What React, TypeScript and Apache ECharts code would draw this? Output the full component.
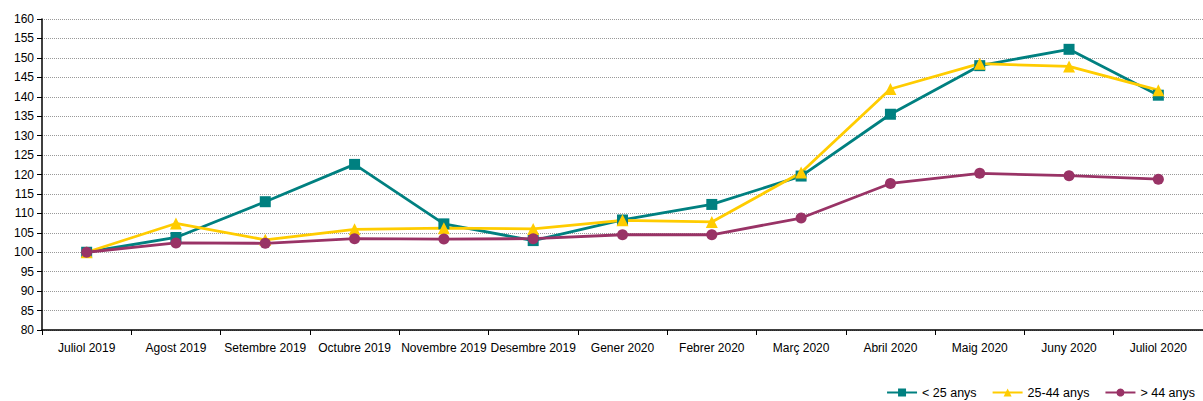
import React, { useEffect, useRef } from "react";
import * as echarts from "echarts";

const categories = [
  "Juliol 2019", "Agost 2019", "Setembre 2019", "Octubre 2019", "Novembre 2019",
  "Desembre 2019", "Gener 2020", "Febrer 2020", "Març 2020", "Abril 2020",
  "Maig 2020", "Juny 2020", "Juliol 2020",
];
const under25 = [100, 103.8, 113, 122.6, 107.3, 103, 108.3, 112.3, 119.6, 135.5, 148, 152.2, 140.4];
const age25to44 = [100, 107.4, 103.2, 105.9, 106.2, 106, 108.2, 107.8, 120.5, 142, 148.5, 147.8, 141.7];
const over44 = [100, 102.4, 102.3, 103.5, 103.4, 103.5, 104.5, 104.5, 108.8, 117.7, 120.3, 119.7, 118.8];
const seriesNames = ["< 25 anys", "25-44 anys", "> 44 anys"];

const FONT = "'Liberation Sans Narrow', 'Liberation Sans', Arial, sans-serif";

export default function App() {
  const ref = useRef<HTMLDivElement>(null);
  useEffect(() => {
    document.body.style.margin = "0";
    const chart = echarts.init(ref.current!, null, { renderer: "svg" });
    const mk = (name: string, data: number[], color: string, symbol: string, size: number) => ({
      name,
      type: "line",
      data,
      symbol,
      symbolSize: size,
      showAllSymbol: true,
      lineStyle: { color, width: 2.8 },
      itemStyle: { color },
    });
    chart.setOption({
      animation: false,
      backgroundColor: "#ffffff",
      textStyle: { fontFamily: FONT },
      grid: { left: 42, top: 19, width: 1166, height: 311 },
      legend: {
        right: 8,
        top: 386,
        padding: 0,
        itemWidth: 30,
        itemHeight: 10,
        itemGap: 15,
        textStyle: { fontFamily: FONT, fontSize: 12.5, color: "#000" },
        data: seriesNames,
      },
      xAxis: {
        type: "category",
        data: categories,
        boundaryGap: true,
        axisLine: { lineStyle: { color: "#000", width: 1.5 } },
        axisTick: { show: true, length: 5, lineStyle: { color: "#000" } },
        axisLabel: { color: "#000", fontSize: 12, fontFamily: FONT, margin: 12, interval: 0 },
      },
      yAxis: {
        type: "value",
        min: 80,
        max: 160,
        interval: 5,
        axisLine: { show: true, lineStyle: { color: "#000", width: 1.5 } },
        axisTick: { show: true, length: 5, lineStyle: { color: "#000" } },
        axisLabel: { color: "#000", fontSize: 12, fontFamily: FONT, margin: 8 },
        splitLine: { show: true, lineStyle: { color: "#999", type: [1, 1], width: 1 } },
      },
      series: [
        mk(seriesNames[0], under25, "#008080", "rect", 11),
        mk(seriesNames[1], age25to44, "#FFCC00", "triangle", 12),
        mk(seriesNames[2], over44, "#993366", "circle", 11),
      ],
    });
    return () => chart.dispose();
  }, []);
  return <div ref={ref} style={{ width: 1203, height: 401 }} />;
}
